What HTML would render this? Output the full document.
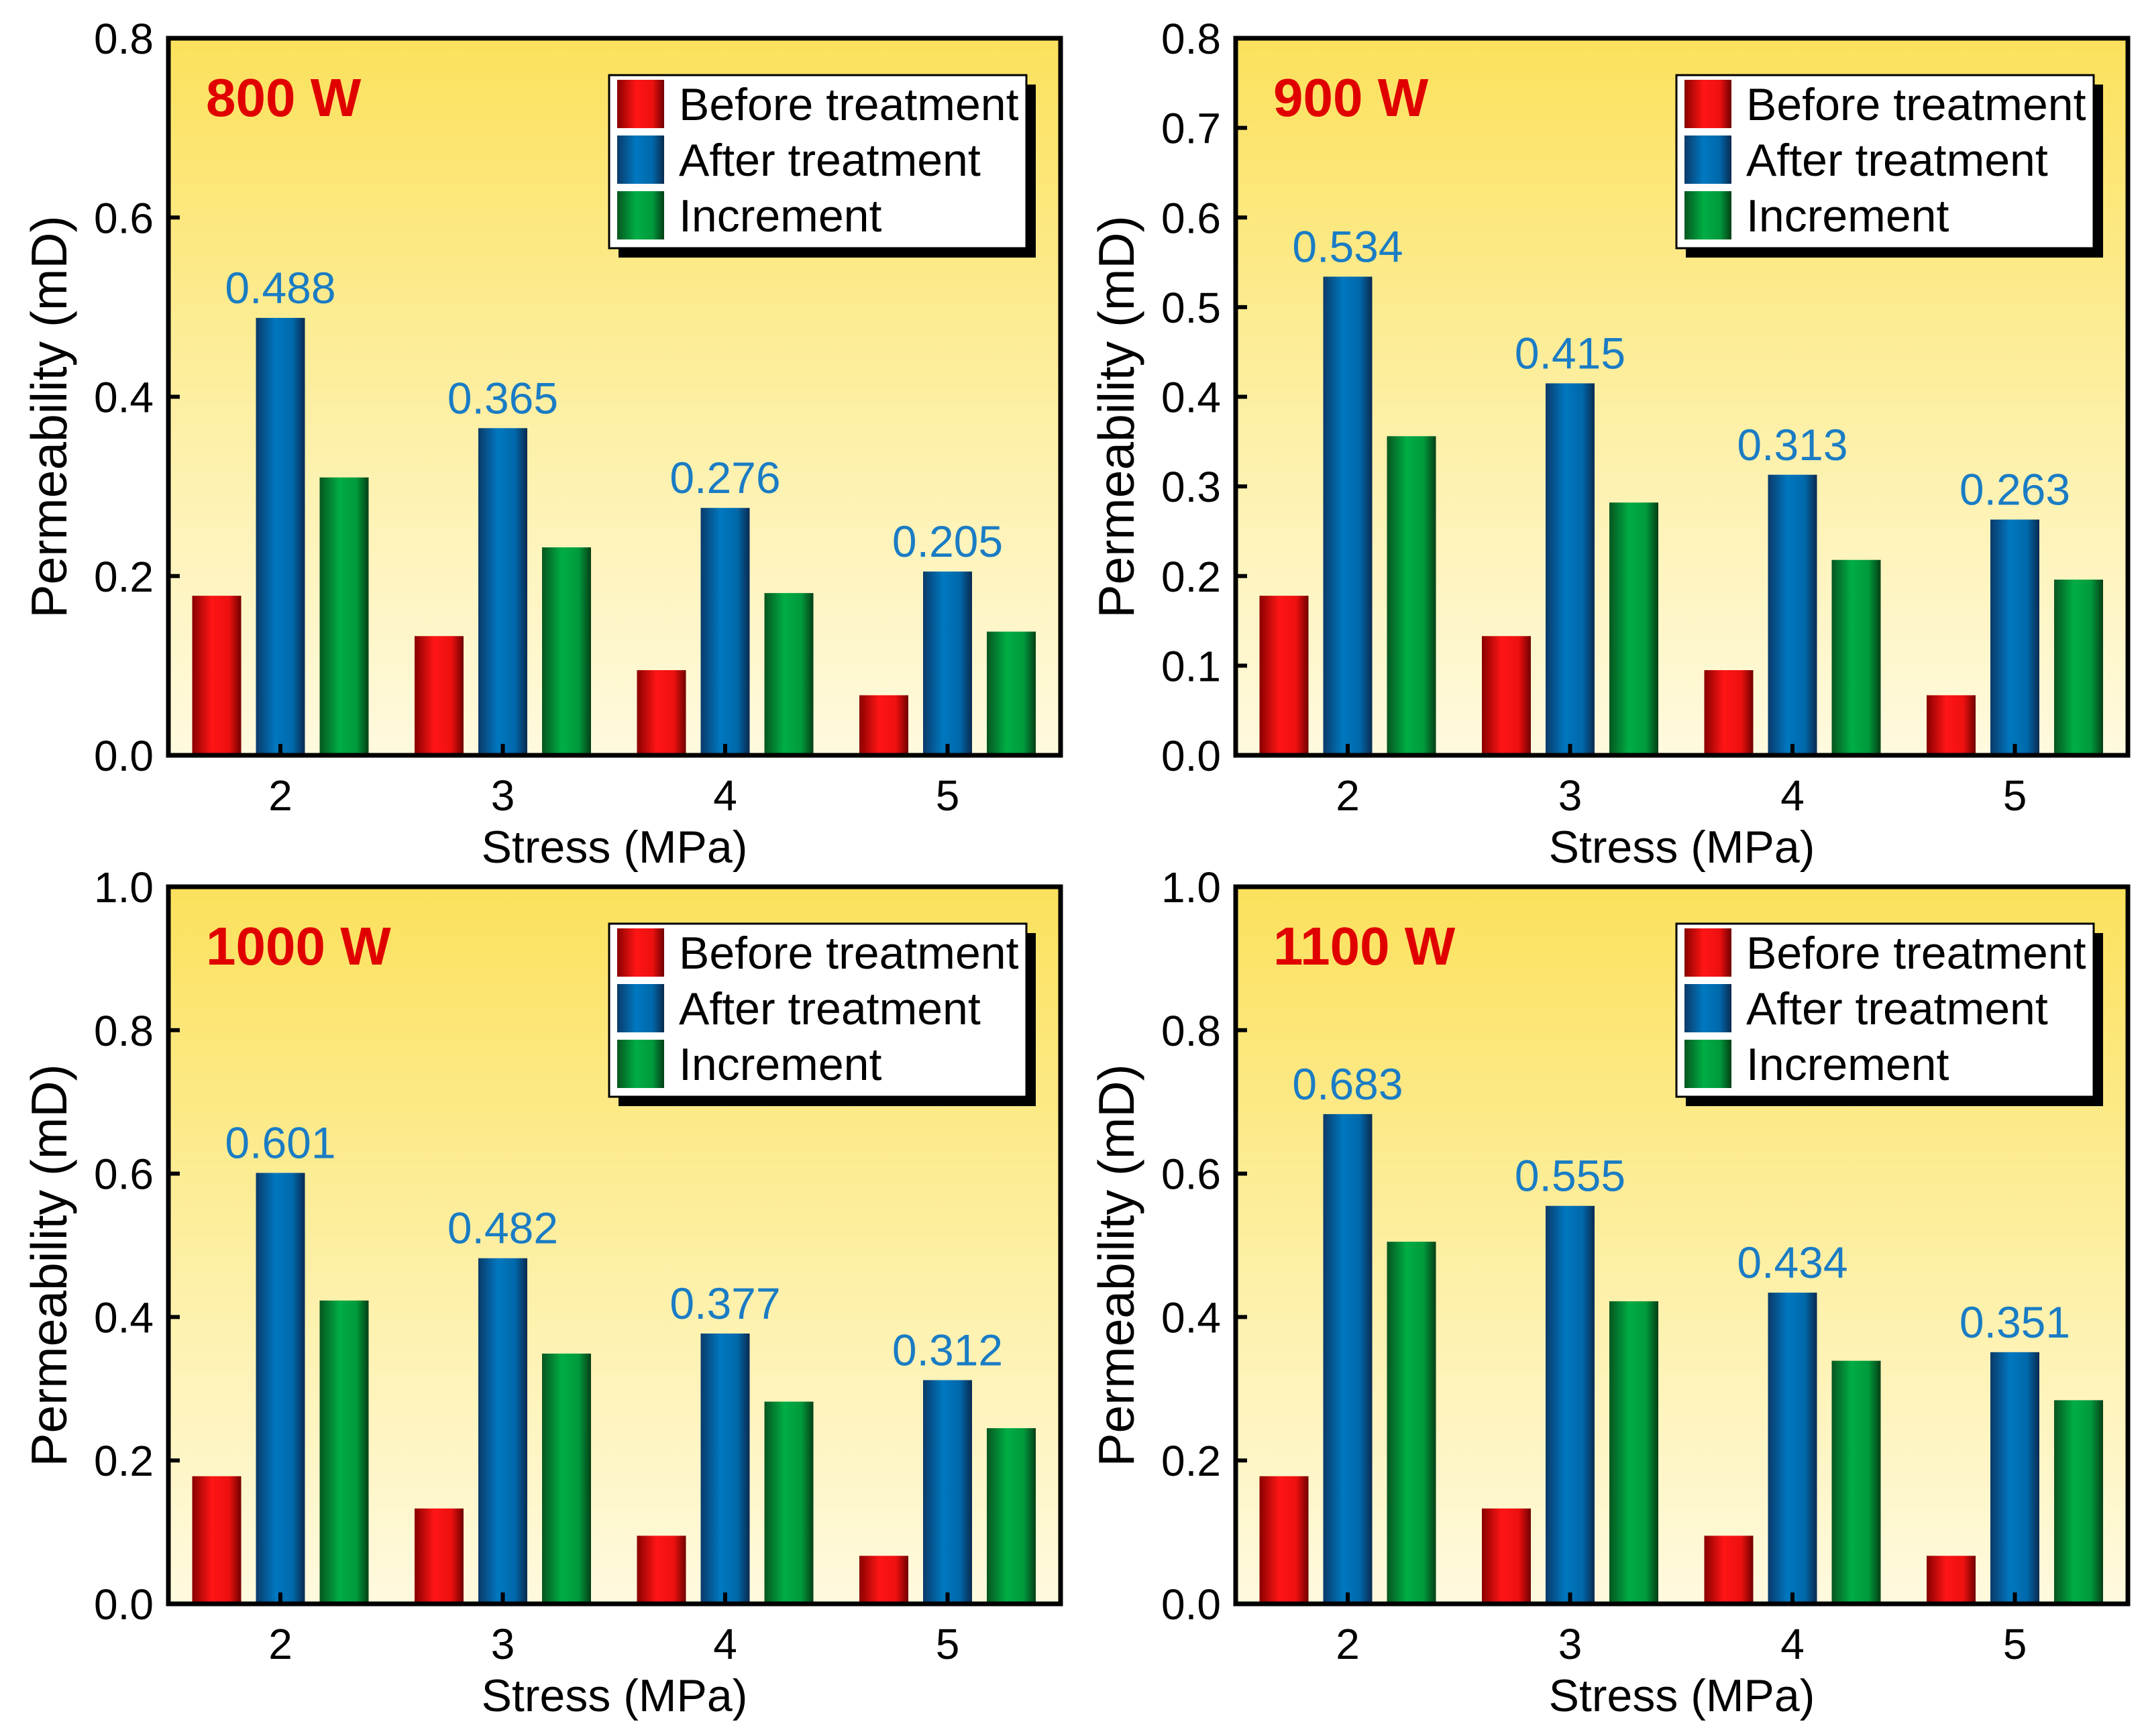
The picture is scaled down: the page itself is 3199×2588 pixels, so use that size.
<!DOCTYPE html>
<html><head><meta charset="utf-8">
<style>
html,body{margin:0;padding:0;background:#fff;}
svg{display:block;font-family:"Liberation Sans",Arial,sans-serif;}
</style></head>
<body>
<svg id="fig" width="3199" height="2588" viewBox="0 0 3199 2588" xmlns="http://www.w3.org/2000/svg">
<defs>
<linearGradient id="bg" x1="0" y1="0" x2="0" y2="1">
<stop offset="0" stop-color="#fbe15c"/><stop offset="0.55" stop-color="#fdf0a8"/><stop offset="1" stop-color="#fffadf"/>
</linearGradient>
<linearGradient id="gr" x1="0" y1="0" x2="1" y2="0">
<stop offset="0" stop-color="#8a0000"/><stop offset="0.4" stop-color="#ff1515"/><stop offset="0.75" stop-color="#ee1010"/><stop offset="1" stop-color="#700000"/>
</linearGradient>
<linearGradient id="gb" x1="0" y1="0" x2="1" y2="0">
<stop offset="0" stop-color="#0a3a6a"/><stop offset="0.4" stop-color="#0078c0"/><stop offset="0.75" stop-color="#0068aa"/><stop offset="1" stop-color="#0a2a50"/>
</linearGradient>
<linearGradient id="gg" x1="0" y1="0" x2="1" y2="0">
<stop offset="0" stop-color="#05561f"/><stop offset="0.4" stop-color="#00ad45"/><stop offset="0.75" stop-color="#009a3c"/><stop offset="1" stop-color="#043f16"/>
</linearGradient>
</defs>
</svg>
<script>
const categories = ["2","3","4","5"];
const panelTitles = ["800 W","900 W","1000 W","1100 W"];
const beforeVals = [0.178,0.133,0.095,0.067];
const after800 = [0.488,0.365,0.276,0.205];
const after900 = [0.534,0.415,0.313,0.263];
const after1000 = [0.601,0.482,0.377,0.312];
const after1100 = [0.683,0.555,0.434,0.351];
const inc800 = [0.310,0.232,0.181,0.138];
const inc900 = [0.356,0.282,0.218,0.196];
const inc1000 = [0.423,0.349,0.282,0.245];
const inc1100 = [0.505,0.422,0.339,0.284];
const yTicks800 = ["0.0","0.2","0.4","0.6","0.8"];
const yTicks900 = ["0.0","0.1","0.2","0.3","0.4","0.5","0.6","0.7","0.8"];
const yTicks1000 = ["0.0","0.2","0.4","0.6","0.8","1.0"];
const yTicks1100 = ["0.0","0.2","0.4","0.6","0.8","1.0"];
const legendLabels = ["Before treatment","After treatment","Increment"];

const NS="http://www.w3.org/2000/svg";
const svg=document.getElementById('fig');
function mk(tag,attrs,parent,text){const e=document.createElementNS(NS,tag);for(const k in attrs)e.setAttribute(k,attrs[k]);if(text!==undefined)e.textContent=text;(parent||svg).appendChild(e);return e;}

const panels=[
 {L:251,T:57,title:panelTitles[0],after:after800,inc:inc800,ticks:yTicks800,ymax:0.8},
 {L:1842,T:57,title:panelTitles[1],after:after900,inc:inc900,ticks:yTicks900,ymax:0.8},
 {L:251,T:1322,title:panelTitles[2],after:after1000,inc:inc1000,ticks:yTicks1000,ymax:1.0},
 {L:1842,T:1322,title:panelTitles[3],after:after1100,inc:inc1100,ticks:yTicks1100,ymax:1.0}
];
const W=1330,H=1069;
panels.forEach((p,pi)=>{
 const g=mk('g',{});
 
 
 const y=v=>p.T+H-v/p.ymax*H;
 const x=i=>p.L+167+i*331.5;
 const bg=mk('rect',{x:p.L,y:p.T,width:W,height:H,fill:'url(#bg)'},g);
 
 
 const bw=73,off=95;
 const series=[[beforeVals,'url(#gr)','bar-before'],[p.after,'url(#gb)','bar-after'],[p.inc,'url(#gg)','bar-increment']];
 categories.forEach((c,i)=>{
  series.forEach((s,si)=>{
   const v=s[0][i];
   const r=mk('rect',{x:x(i)+(si-1)*off-bw/2,y:y(v),width:bw,height:y(0)-y(v),fill:s[1]},g);
   
   
  });
  const t=mk('text',{x:x(i),y:y(p.after[i])-22,'font-size':66,fill:'#1a7cc4','text-anchor':'middle'},g,p.after[i].toFixed(3));
  
  
  mk('line',{x1:x(i),x2:x(i),y1:y(0),y2:y(0)-17,stroke:'#000','stroke-width':6},g);
  const xl=mk('text',{x:x(i),y:y(0)+82,'font-size':64,'text-anchor':'middle'},g,c);
  
  
 });
 p.ticks.forEach(tk=>{
  const v=parseFloat(tk);
  mk('line',{x1:p.L,x2:p.L+17,y1:y(v),y2:y(v),stroke:'#000','stroke-width':6},g);
  const tl=mk('text',{x:p.L-22,y:y(v)+23,'font-size':64,'text-anchor':'end'},g,tk);
  
  
 });
 const fr=mk('rect',{x:p.L,y:p.T,width:W,height:H,fill:'none',stroke:'#000','stroke-width':7},g);
 
 
 const xt=mk('text',{x:p.L+665,y:p.T+H+160,'font-size':68,'text-anchor':'middle'},g,'Stress (MPa)');
 
 
 const yt=mk('text',{x:0,y:0,'font-size':75,'text-anchor':'middle',transform:`translate(${p.L-152},${p.T+H/2+30}) rotate(-90)`},g,'Permeability (mD)');
 
 
 const pt=mk('text',{x:p.L+56,y:p.T+116,'font-size':80,'font-weight':'bold',fill:'#e00000'},g,p.title);
 
 
 const lx=p.L+657,ly=p.T+55;
 mk('rect',{x:lx+14,y:ly+14,width:622,height:258,fill:'#000'},g);
 const lb=mk('rect',{x:lx,y:ly,width:622,height:258,fill:'#fff',stroke:'#000','stroke-width':3},g);
 
 
 const fills=['url(#gr)','url(#gb)','url(#gg)'];
 legendLabels.forEach((lab,k)=>{
  const cy=ly+43+k*83;
  mk('rect',{x:lx+12,y:cy-36,width:70,height:72,fill:fills[k]},g);
  const le=mk('text',{x:lx+104,y:cy+24,'font-size':68},g,lab);
  
  
 });
});
</script>
</body></html>
